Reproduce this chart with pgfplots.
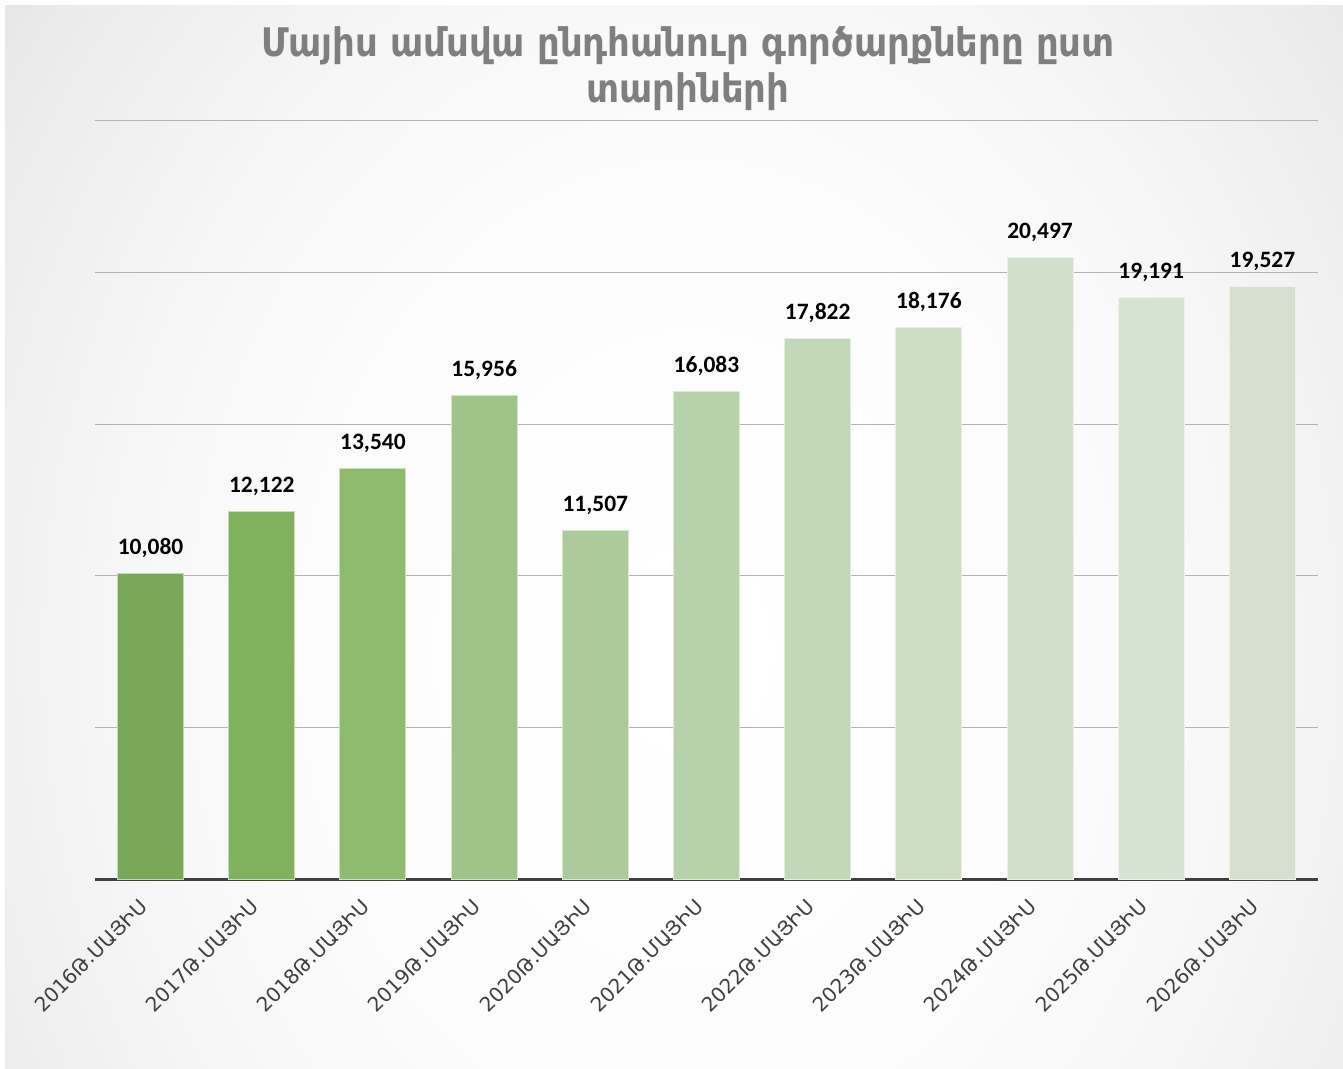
\documentclass[border=0pt]{standalone}
\usepackage{pgfplots}
\pgfplotsset{compat=1.18}
\usepackage{fontspec}
\setmainfont{DejaVu Sans}
\newfontfamily\titlefont{DejaVu Sans Condensed Bold}
\newfontfamily\tickfont{DejaVu Sans}
\newfontfamily\lblfont{Carlito}

\definecolor{b1}{HTML}{7AA859}
\definecolor{b2}{HTML}{80B25E}
\definecolor{b3}{HTML}{8FBB6E}
\definecolor{b4}{HTML}{A0C488}
\definecolor{b5}{HTML}{ABCB9B}
\definecolor{b6}{HTML}{B7D1A8}
\definecolor{b7}{HTML}{C2D8B7}
\definecolor{b8}{HTML}{CBDDC2}
\definecolor{b9}{HTML}{D2E0CB}
\definecolor{b10}{HTML}{D6E3D0}
\definecolor{b11}{HTML}{D5E1CE}
\definecolor{titlegray}{HTML}{7F7F7F}
\definecolor{tickgray}{HTML}{404040}
\definecolor{gridgray}{HTML}{B4B4B4}
\definecolor{bg1}{HTML}{FDFDFD}
\definecolor{bg2}{HTML}{F7F7F7}
\definecolor{bg3}{HTML}{ECECEC}
\definecolor{bg4}{HTML}{DEDEDE}
\definecolor{bg5}{HTML}{D4D4D4}
\definecolor{bg6}{HTML}{C4C4C4}
\definecolor{bg7}{HTML}{BDBDBD}

% 50bp = rim of the ellipse
\pgfdeclareradialshading{bgshade}{\pgfpoint{0bp}{0bp}}{%
  color(0bp)=(white); color(8.5bp)=(bg1); color(14bp)=(bg2);
  color(19.5bp)=(bg3); color(25bp)=(bg4); color(30bp)=(bg5);
  color(43bp)=(bg6); color(50bp)=(bg7)}

\begin{document}
\begin{tikzpicture}[x=0.75pt,y=0.75pt]
\path[use as bounding box] (0,0) rectangle (1343,1068);
\begin{scope}
  \clip (5,0) rectangle (1343,1062);
  \shade[shading=bgshade] (690,418) ellipse [x radius=1000, y radius=1250];
\end{scope}

\node[anchor=base,text=titlegray,font=\titlefont\fontsize{29.5}{34}\selectfont]
  at (688,1011) {Մայիս ամսվա ընդհանուր գործարքները ըստ};
\node[anchor=base,text=titlegray,font=\titlefont\fontsize{29.5}{34}\selectfont]
  at (688,965) {տարիների};

\coordinate (O) at (95,189);
\begin{axis}[
  at={(O)}, anchor=south west,
  scale only axis, width=917.25pt, height=568.5pt,
  xmin=-0.5, xmax=10.5, ymin=0, ymax=25000,
  axis lines*=left,
  y axis line style={draw=none},
  x axis line style={-,line width=2.25pt,color=tickgray},
  ytick={5000,10000,15000,20000,25000},
  yticklabels={},
  scaled y ticks=false,
  ymajorgrids,
  grid style={gridgray,line width=0.75pt},
  major tick length=0pt,
  xtick={0,...,10},
  xticklabels={2016Թ.ՄԱՅԻՍ,2017Թ.ՄԱՅԻՍ,2018Թ.ՄԱՅԻՍ,2019Թ.ՄԱՅԻՍ,2020Թ.ՄԱՅԻՍ,2021Թ.ՄԱՅԻՍ,2022Թ.ՄԱՅԻՍ,2023Թ.ՄԱՅԻՍ,2024Թ.ՄԱՅԻՍ,2025Թ.ՄԱՅԻՍ,2026Թ.ՄԱՅԻՍ},
  xticklabel style={rotate=45,anchor=north east,text=tickgray,
    font=\tickfont\fontsize{15}{17}\selectfont,inner sep=1pt,xshift=-15.3pt,yshift=-1.9pt},
  /pgf/number format/assume math mode=true,
  nodes near coords={\pgfmathprintnumber[1000 sep={,}]{\pgfplotspointmeta}},
  every node near coord/.append style={anchor=base,yshift=14.25pt,text=black,
    font=\lblfont\bfseries\fontsize{17.6}{20}\selectfont},
  every axis plot/.append style={ybar,bar shift=0pt,bar width=49.5pt,line width=0.75pt},
]
\addplot[fill=b1,draw=b1!45!white] coordinates {(0,10080)};
\addplot[fill=b2,draw=b2!45!white] coordinates {(1,12122)};
\addplot[fill=b3,draw=b3!45!white] coordinates {(2,13540)};
\addplot[fill=b4,draw=b4!45!white] coordinates {(3,15956)};
\addplot[fill=b5,draw=b5!45!white] coordinates {(4,11507)};
\addplot[fill=b6,draw=b6!45!white] coordinates {(5,16083)};
\addplot[fill=b7,draw=b7!45!white] coordinates {(6,17822)};
\addplot[fill=b8,draw=b8!45!white] coordinates {(7,18176)};
\addplot[fill=b9,draw=b9!45!white] coordinates {(8,20497)};
\addplot[fill=b10,draw=b10!45!white] coordinates {(9,19191)};
\addplot[fill=b11,draw=b11!45!white] coordinates {(10,19527)};
\end{axis}
\end{tikzpicture}
\end{document}
